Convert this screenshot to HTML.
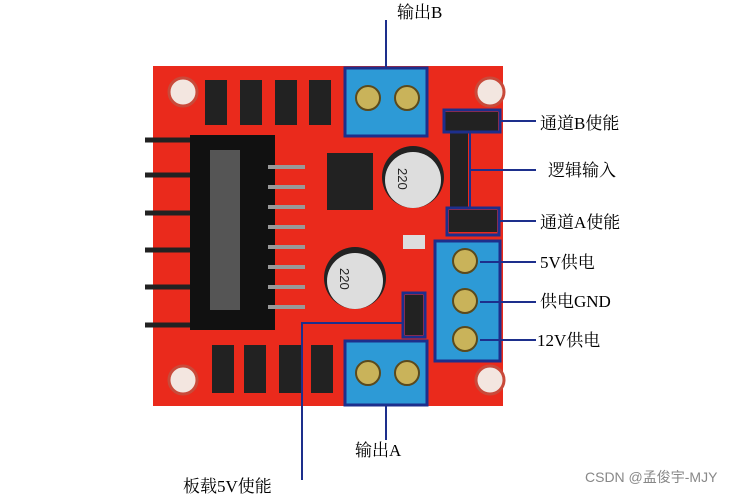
<!DOCTYPE html>
<html><head><meta charset="utf-8"><style>
body{margin:0;width:737px;height:496px;background:#fff;overflow:hidden}
text{font-family:"Liberation Serif","Noto Serif CJK SC",serif;font-size:17px;fill:#000}
</style></head><body>
<svg width="737" height="496" viewBox="0 0 737 496">
<rect x="153" y="66" width="350" height="340" fill="#ea2a1c"/>
<g fill="#f3e6e0" stroke="#c94a3a" stroke-width="3">
<circle cx="183" cy="92" r="14"/><circle cx="490" cy="92" r="14"/>
<circle cx="183" cy="380" r="14"/><circle cx="490" cy="380" r="14"/></g>
<g fill="#222"><rect x="205" y="80" width="22" height="45"/><rect x="240" y="80" width="22" height="45"/><rect x="275" y="80" width="22" height="45"/><rect x="309" y="80" width="22" height="45"/>
<rect x="212" y="345" width="22" height="48"/><rect x="244" y="345" width="22" height="48"/><rect x="279" y="345" width="22" height="48"/><rect x="311" y="345" width="22" height="48"/></g>
<g stroke="#222" stroke-width="5"><line x1="145" y1="140" x2="200" y2="140"/><line x1="145" y1="175" x2="200" y2="175"/><line x1="145" y1="213" x2="200" y2="213"/><line x1="145" y1="250" x2="200" y2="250"/><line x1="145" y1="287" x2="200" y2="287"/><line x1="145" y1="325" x2="200" y2="325"/></g>
<rect x="190" y="135" width="85" height="195" fill="#111"/>
<rect x="210" y="150" width="30" height="160" fill="#555"/>
<g stroke="#999" stroke-width="4"><line x1="268" y1="167" x2="305" y2="167"/><line x1="268" y1="187" x2="305" y2="187"/><line x1="268" y1="207" x2="305" y2="207"/><line x1="268" y1="227" x2="305" y2="227"/><line x1="268" y1="247" x2="305" y2="247"/><line x1="268" y1="267" x2="305" y2="267"/><line x1="268" y1="287" x2="305" y2="287"/><line x1="268" y1="307" x2="305" y2="307"/></g>
<rect x="327" y="153" width="46" height="57" fill="#222"/>
<circle cx="413" cy="177" r="31" fill="#222"/><circle cx="413" cy="180" r="28" fill="#ddd"/>
<circle cx="355" cy="278" r="31" fill="#222"/><circle cx="355" cy="281" r="28" fill="#ddd"/>
<text x="0" y="0" transform="translate(398,168) rotate(90)" style="font-family:'Liberation Sans',sans-serif;font-size:13px;fill:#222">220</text>
<text x="0" y="0" transform="translate(340,268) rotate(90)" style="font-family:'Liberation Sans',sans-serif;font-size:13px;fill:#222">220</text>
<rect x="450" y="133" width="18" height="75" fill="#222"/>
<rect x="444" y="112" width="54" height="20" fill="#222"/>
<rect x="449" y="210" width="48" height="22" fill="#222"/>
<rect x="405" y="295" width="18" height="40" fill="#222"/>
<rect x="403" y="235" width="22" height="14" fill="#ddd"/>
<g fill="#2d9ad6" stroke="#1d2f8c" stroke-width="3">
<rect x="345" y="68" width="82" height="68"/><rect x="345" y="341" width="82" height="64"/><rect x="435" y="241" width="65" height="120"/></g>
<g fill="#c9b35a" stroke="#5b4a1c" stroke-width="2">
<circle cx="368" cy="98" r="12"/><circle cx="407" cy="98" r="12"/>
<circle cx="368" cy="373" r="12"/><circle cx="407" cy="373" r="12"/>
<circle cx="465" cy="261" r="12"/><circle cx="465" cy="301" r="12"/><circle cx="465" cy="339" r="12"/></g>
<rect x="444" y="110" width="56" height="22" fill="none" stroke="#1d2f8c" stroke-width="3"/>
<rect x="447" y="208" width="52" height="27" fill="none" stroke="#1d2f8c" stroke-width="3"/>
<rect x="403" y="293" width="22" height="44" fill="none" stroke="#1d2f8c" stroke-width="3"/>
<g stroke="#1d2f8c" stroke-width="2" fill="none">
<line x1="386" y1="20" x2="386" y2="68"/><line x1="386" y1="405" x2="386" y2="440"/>
<line x1="500" y1="121" x2="536" y2="121"/><polyline points="470,132 470,208"/><line x1="470" y1="170" x2="536" y2="170"/>
<line x1="499" y1="221" x2="536" y2="221"/>
<line x1="480" y1="262" x2="536" y2="262"/><line x1="480" y1="302" x2="536" y2="302"/><line x1="480" y1="340" x2="536" y2="340"/>
<polyline points="403,323 302,323 302,480"/></g>
<text x="397" y="18">输出B</text>
<text x="540" y="129">通道B使能</text>
<text x="548" y="176">逻辑输入</text>
<text x="540" y="228">通道A使能</text>
<text x="540" y="268">5V供电</text>
<text x="540" y="307">供电GND</text>
<text x="537" y="346">12V供电</text>
<text x="355" y="456">输出A</text>
<text x="183" y="492">板载5V使能</text>
<text x="585" y="482" style="font-family:'Liberation Sans','Noto Sans CJK SC',sans-serif;font-size:14px;fill:#888">CSDN @孟俊宇-MJY</text>
</svg></body></html>
